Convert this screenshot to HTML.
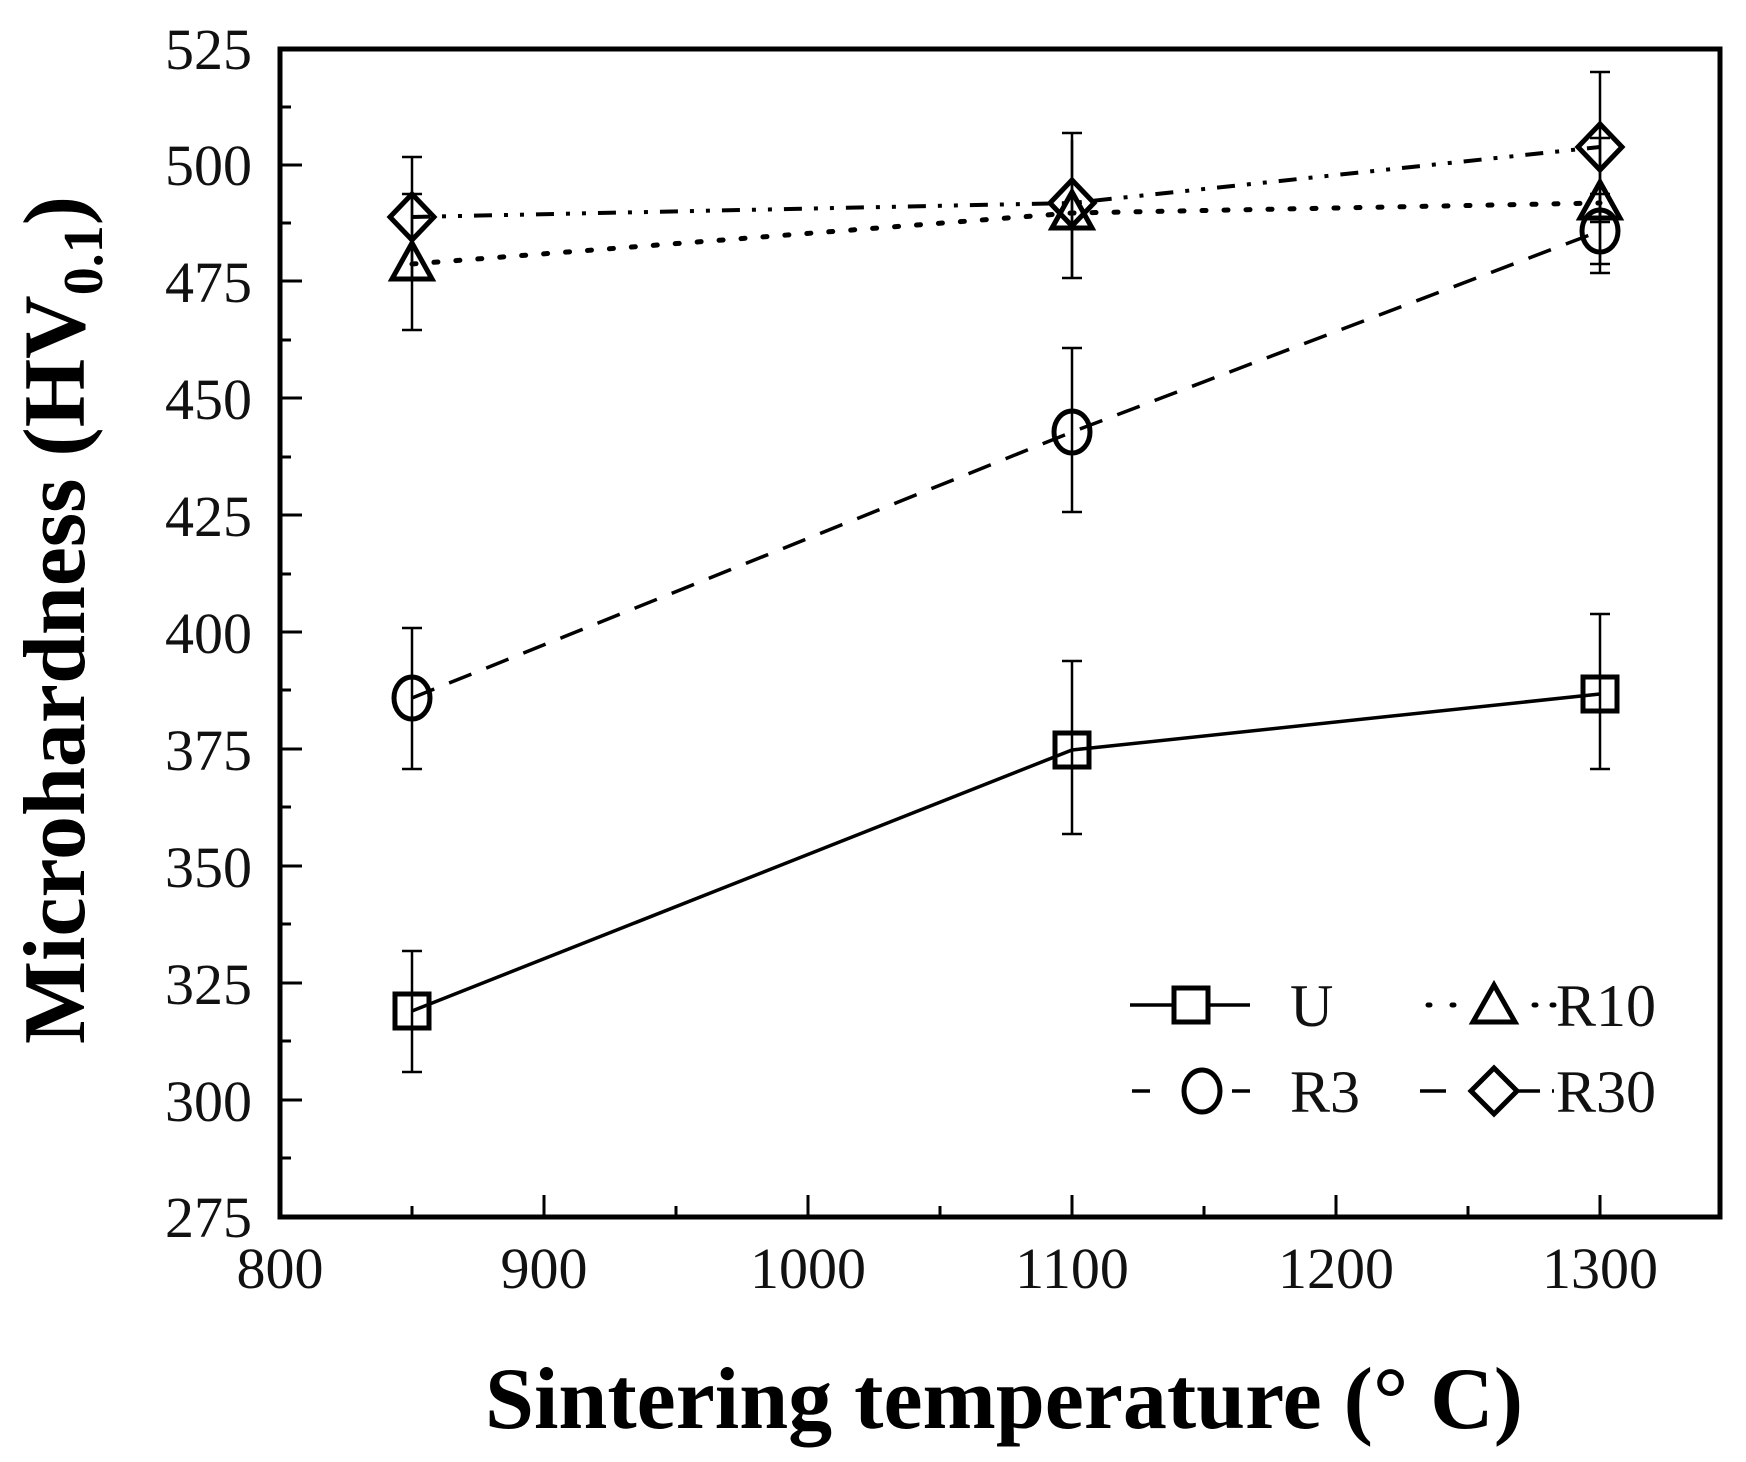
<!DOCTYPE html>
<html><head><meta charset="utf-8"><style>html,body{margin:0;padding:0;background:#fff}svg{display:block}</style></head>
<body>
<svg width="1746" height="1462" viewBox="0 0 1746 1462" xmlns="http://www.w3.org/2000/svg" font-family="Liberation Serif, serif">
<rect width="1746" height="1462" fill="#fff"/>
<g stroke="#000" stroke-width="3" fill="none">
<path d="M280 165h22M280 281h22M280 398h22M280 515h22M280 632h22M280 749h22M280 866h22M280 983h22M280 1100h22
M280 107h11M280 223h11M280 340h11M280 457h11M280 574h11M280 690h11M280 807h11M280 924h11M280 1041h11M280 1158h11"/>
<path d="M544 1217v-22M808 1217v-22M1072 1217v-22M1336 1217v-22M1600 1217v-22
M412 1217v-11M676 1217v-11M940 1217v-11M1204 1217v-11M1468 1217v-11"/>
</g>
<rect x="280" y="49" width="1440" height="1168" fill="none" stroke="#000" stroke-width="5"/>
<g font-size="58" fill="#111" text-anchor="end">
<text x="252" y="69">525</text><text x="252" y="185">500</text><text x="252" y="302">475</text><text x="252" y="419">450</text><text x="252" y="536">425</text><text x="252" y="653">400</text><text x="252" y="770">375</text><text x="252" y="887">350</text><text x="252" y="1004">325</text><text x="252" y="1121">300</text><text x="252" y="1237">275</text>
</g>
<g font-size="58" fill="#111" text-anchor="middle">
<text x="280" y="1288">800</text><text x="544" y="1288">900</text><text x="808" y="1288">1000</text><text x="1072" y="1288">1100</text><text x="1336" y="1288">1200</text><text x="1600" y="1288">1300</text>
</g>
<text x="1004" y="1428" font-size="88" font-weight="bold" text-anchor="middle">Sintering temperature (° C)</text>
<text transform="translate(84,620) rotate(-90)" font-size="88" font-weight="bold" text-anchor="middle">Microhardness (HV<tspan font-size="56" dy="18">0.1</tspan><tspan dy="-18">)</tspan></text>
<g stroke="#000" stroke-width="2.5">
<path d="M412 1072V951M402 1072h20M402 951h20 M1072 834V661M1062 834h20M1062 661h20 M1600 769V614M1590 769h20M1590 614h20"/>
<path d="M412 769V628M402 769h20M402 628h20 M1072 512V348M1062 512h20M1062 348h20 M1600 273V194M1590 273h20M1590 194h20"/>
<path d="M412 330V194M402 330h20M402 194h20 M1072 278V133M1062 278h20M1062 133h20 M1600 264V138M1590 264h20M1590 138h20"/>
<path d="M412 278V157M402 278h20M402 157h20 M1072 278V140M1600 222V72M1590 222h20M1590 72h20"/>
</g>
<g stroke="#000" stroke-width="3.5" fill="none">
<polyline points="412,1011 1072,750 1600,694"/>
<polyline points="412,698 1072,432 1600,231" stroke-dasharray="24,16"/>
<polyline points="412,264 1072,213 1600,203" stroke-dasharray="4,18" stroke-linecap="round" stroke-width="5"/>
<polyline points="412,217 1072,203 1600,147" stroke-dasharray="18,12,4,12,4,12" stroke-width="4"/>
</g>
<g stroke="#000" stroke-width="5" fill="none">
<rect x="395" y="994" width="34" height="34"/><rect x="1055" y="733" width="34" height="34"/><rect x="1583" y="677" width="34" height="34"/>
<ellipse cx="412" cy="698" rx="18" ry="21"/><ellipse cx="1072" cy="432" rx="18" ry="21"/><ellipse cx="1600" cy="231" rx="18" ry="21"/>
<path d="M412 243l20 36h-40z M1072 192l20 36h-40z M1600 182l20 36h-40z"/>
<path d="M412 194l22 23-22 23-22-23z M1072 180l22 23-22 23-22-23z M1600 124l22 23-22 23-22-23z"/>
</g>
<g stroke="#000" stroke-width="3.5" fill="none">
<path d="M1130 1005h44M1208 1005h42"/>
<rect x="1174" y="988" width="34" height="34" stroke-width="5"/>
<path d="M1132 1091h18M1232 1091h18"/>
<ellipse cx="1202" cy="1091" rx="18" ry="21" stroke-width="5"/>
<path d="M1428 1005h2M1452 1005h2M1534 1005h2M1552 1005h2" stroke-width="5" stroke-linecap="round"/>
<path d="M1494 985l21 37h-42z" stroke-width="5"/>
<path d="M1420 1091h26M1518 1091h22M1552 1091h2"/>
<path d="M1494 1068l23 23-23 23-23-23z" stroke-width="5"/>
</g>
<g font-size="60" fill="#111">
<text x="1290" y="1026">U</text><text x="1290" y="1112">R3</text>
<text x="1556" y="1026">R10</text><text x="1556" y="1112">R30</text>
</g>
</svg>
</body></html>
